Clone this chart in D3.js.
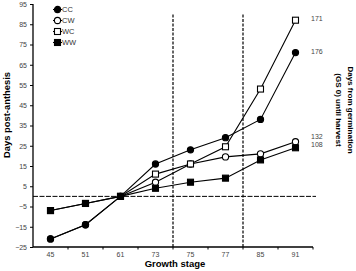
<!DOCTYPE html>
<html lang="en">
<head>
<meta charset="utf-8"/>
<script src="https://d3js.org/d3.v7.min.js"></script>
<style>
  body { margin: 0; background: #fff; }
  svg { font-family: "Liberation Sans", Arial, sans-serif; }
</style>
</head>
<body>
<svg id="chart" width="356" height="271"></svg>
<script>
// data
const stages = ["45", "51", "61", "73", "75", "77", "85", "91"];
const cc = [-21, -14, 0, 16, 23, 29, 38, 71];
const cw = [-21, -14, 0, 7, 16, 19.5, 21, 27];
const wc = [-7, -3.5, 0, 11, 16, 24.5, 53, 87];
const ww = [-7, -3.5, 0, 4, 7, 9, 18, 24];
const harvestDays = {CC: "176", CW: "132", WC: "171", WW: "108"};
const yTicks = [-25, -15, -5, 5, 15, 25, 35, 45, 55, 65, 75, 85, 95];

const series = [
  {name: "CW", values: cw, shape: "circle", fill: "#fff"},
  {name: "WC", values: wc, shape: "square", fill: "#fff"},
  {name: "CC", values: cc, shape: "circle", fill: "#000"},
  {name: "WW", values: ww, shape: "square", fill: "#000"}
];
const legendOrder = ["CC", "CW", "WC", "WW"];
// small vertical nudges so the end labels don't collide
const labelShift = {CC: 1, CW: -2.5, WC: 0.5, WW: -1};

const svg = d3.select("#chart");
const mLeft = 33, mRight = 313, mTop = 4, mBottom = 247;

let x = d3.scaleBand().domain(stages).range([mLeft, mRight]).padding(0);
let y = d3.scaleLinear().domain([-25, 95]).range([mBottom, mTop]);
const cx = function(s){ return x(s) + x.bandwidth() / 2; };

// reference lines
svg.append("line")
  .attr("x1", mLeft).attr("x2", 316)
  .attr("y1", y(0)).attr("y2", y(0))
  .attr("stroke", "#000").attr("stroke-width", 1)
  .attr("stroke-dasharray", "5,1.5");

// vertical lines sit at the boundaries 73|75 and 77|85
["75", "85"].forEach(function(s){
  svg.append("line")
    .attr("x1", x(s)).attr("x2", x(s))
    .attr("y1", y(-25)).attr("y2", y(90))
    .attr("stroke", "#000").attr("stroke-width", 1.2)
    .attr("stroke-dasharray", "3,1.5");
});

// axes
const yAxis = svg.append("g")
  .attr("transform", "translate(" + mLeft + ",0)")
  .call(d3.axisLeft(y).tickValues(yTicks).tickSize(3).tickPadding(3));
const xAxis = svg.append("g")
  .attr("transform", "translate(0," + mBottom + ")")
  .call(d3.axisBottom(x).tickSize(0).tickPadding(5.5));
// small ticks at band boundaries
xAxis.selectAll(".bound")
  .data(stages.slice(1).concat(["end"]))
  .enter().append("line")
    .attr("x1", function(d){ return d === "end" ? mRight : x(d); })
    .attr("x2", function(d){ return d === "end" ? mRight : x(d); })
    .attr("y1", 0).attr("y2", 2.5)
    .attr("stroke", "#000");
[yAxis, xAxis].forEach(function(g){
  g.select(".domain").attr("stroke", "#000").attr("stroke-width", 1.3);
  g.selectAll("text").attr("font-size", "7px").attr("fill", "#444")
    .attr("font-family", "Liberation Sans, Arial, sans-serif");
});
yAxis.select(".domain").attr("d", "M0," + mTop + "V" + mBottom);
xAxis.select(".domain").attr("d", "M" + mLeft + ",0H" + mRight);

// lines + markers
const line = d3.line()
  .x(function(d, i){ return cx(stages[i]); })
  .y(function(d){ return y(d); });

function marker(g, shape, fill, px, py){
  if (shape === "circle") {
    g.append("circle").attr("cx", px).attr("cy", py).attr("r", 3.1)
      .attr("fill", fill).attr("stroke", "#000").attr("stroke-width", 1.1);
  } else {
    g.append("rect").attr("x", px - 3).attr("y", py - 3)
      .attr("width", 6).attr("height", 6)
      .attr("fill", fill).attr("stroke", "#000").attr("stroke-width", 1.1);
  }
}

series.forEach(function(s){
  const g = svg.append("g");
  g.append("path").datum(s.values).attr("d", line)
    .attr("fill", "none").attr("stroke", "#000").attr("stroke-width", 1.1);
  s.values.forEach(function(v, i){ marker(g, s.shape, s.fill, cx(stages[i]), y(v)); });
  // harvest label at end of line
  const last = s.values[s.values.length - 1];
  svg.append("text").attr("x", 311).attr("y", y(last) + labelShift[s.name])
    .attr("font-size", "7px").attr("fill", "#444").text(harvestDays[s.name]);
});

// legend
const legend = svg.append("g");
legendOrder.forEach(function(name, i){
  const s = series.find(function(d){ return d.name === name; });
  const ly = 9.5 + i * 11;
  legend.append("line").attr("x1", 53).attr("x2", 62).attr("y1", ly).attr("y2", ly)
    .attr("stroke", "#000").attr("stroke-width", 1.1);
  marker(legend, s.shape, s.fill, 57.5, ly);
  legend.append("text").attr("x", 62).attr("y", ly + 2.6)
    .attr("font-size", "7.5px").attr("fill", "#333").text(name);
});

// titles
svg.append("text")
  .attr("transform", "translate(10,115) rotate(-90)")
  .attr("text-anchor", "middle").attr("font-size", "9.4px").attr("font-weight", "bold")
  .text("Days post-anthesis");
svg.append("text")
  .attr("x", 175).attr("y", 267)
  .attr("text-anchor", "middle").attr("font-size", "9.5px").attr("font-weight", "bold")
  .text("Growth stage");
const rt = svg.append("text")
  .attr("transform", "translate(348,110) rotate(90)")
  .attr("text-anchor", "middle").attr("font-size", "8px").attr("font-weight", "bold");
rt.append("tspan").attr("x", 0).attr("dy", 0).text("Days from germination");
rt.append("tspan").attr("x", 0).attr("dy", 12).text("(GS 0) until harvest");
</script>
</body>
</html>
